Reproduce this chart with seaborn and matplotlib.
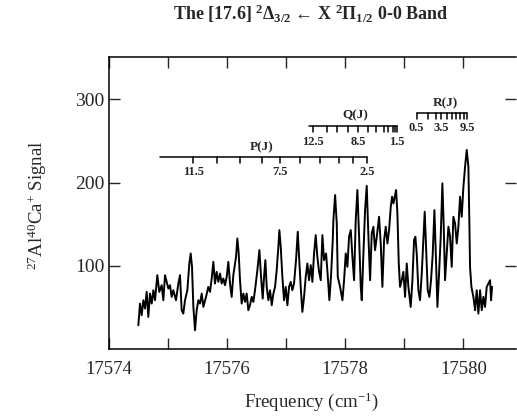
import numpy as np
import pandas as pd
import matplotlib
matplotlib.use("Agg")
import matplotlib.pyplot as plt
import seaborn as sns

# ---- spectrum data ----
freq = [
    17574.501, 17574.529, 17574.557, 17574.586, 17574.614, 17574.642, 17574.670, 17574.698,
    17574.727, 17574.755, 17574.783, 17574.822, 17574.856, 17574.896, 17574.924, 17574.952,
    17574.980, 17575.009, 17575.037, 17575.065, 17575.093, 17575.138, 17575.178, 17575.206,
    17575.234, 17575.262, 17575.291, 17575.330, 17575.364, 17575.387, 17575.409, 17575.432,
    17575.460, 17575.488, 17575.516, 17575.544, 17575.573, 17575.601, 17575.646, 17575.685,
    17575.714, 17575.742, 17575.770, 17575.798, 17575.826, 17575.855, 17575.883, 17575.911,
    17575.939, 17575.967, 17575.996, 17576.024, 17576.052, 17576.080, 17576.108, 17576.154,
    17576.176, 17576.199, 17576.221, 17576.249, 17576.278, 17576.306, 17576.334, 17576.362,
    17576.390, 17576.419, 17576.447, 17576.475, 17576.515,
    17576.549, 17576.577, 17576.605, 17576.628, 17576.650, 17576.673, 17576.701, 17576.729,
    17576.758, 17576.786, 17576.814, 17576.842, 17576.870, 17576.887, 17576.910, 17576.938,
    17576.966, 17576.994, 17577.023, 17577.051, 17577.079, 17577.107, 17577.135, 17577.169,
    17577.198, 17577.220, 17577.248, 17577.276, 17577.305, 17577.333, 17577.361, 17577.389,
    17577.418, 17577.446, 17577.474, 17577.502, 17577.530, 17577.559, 17577.587, 17577.615,
    17577.643, 17577.677, 17577.705, 17577.733, 17577.762, 17577.790,
    17577.801, 17577.830, 17577.858, 17577.875, 17577.914, 17577.954, 17577.982, 17578.010,
    17578.038, 17578.066, 17578.095, 17578.123, 17578.151, 17578.179, 17578.207, 17578.236,
    17578.264, 17578.281, 17578.309, 17578.337, 17578.365, 17578.394, 17578.422, 17578.450,
    17578.478, 17578.506, 17578.535, 17578.574, 17578.602, 17578.630, 17578.659, 17578.687,
    17578.715, 17578.743, 17578.772, 17578.794, 17578.817, 17578.845, 17578.862, 17578.884,
    17578.907,
    17578.929, 17578.957, 17578.985, 17579.014, 17579.042, 17579.070, 17579.109, 17579.138,
    17579.166, 17579.188, 17579.211, 17579.239, 17579.267, 17579.296, 17579.324, 17579.346,
    17579.369, 17579.397, 17579.425, 17579.453, 17579.482, 17579.510, 17579.532, 17579.561,
    17579.589, 17579.617, 17579.645, 17579.668, 17579.690, 17579.719, 17579.747, 17579.775,
    17579.803, 17579.831, 17579.860, 17579.888, 17579.916, 17579.944, 17579.972, 17580.001,
    17580.029, 17580.057, 17580.085, 17580.102, 17580.113, 17580.136, 17580.170, 17580.198,
    17580.226, 17580.254, 17580.283, 17580.311, 17580.339, 17580.367, 17580.395, 17580.424,
    17580.452, 17580.469, 17580.486,
]
signal = [
    29, 55, 41, 59, 49, 69, 39, 67, 55, 71, 59, 89, 69, 77, 59, 89,
    81, 73, 77, 63, 71, 59, 79, 89, 47, 43, 59, 71, 103, 115, 99, 51,
    23, 47, 59, 55, 67, 51, 63, 75, 69, 85, 105, 79, 93, 81, 91, 79,
    85, 77, 87, 105, 79, 63, 89, 111, 133, 115, 83, 55, 67, 57, 67, 47,
    53, 63, 57, 71, 95,
    119, 87, 61, 87, 107, 75, 59, 71, 53, 67, 75, 95, 123, 143, 123, 87,
    59, 75, 53, 75, 81, 71, 79, 107, 141, 111, 75, 45, 63, 87, 103, 83,
    101, 81, 115, 137, 111, 93, 83, 137, 107, 115, 89, 59, 89, 131,
    155, 185, 151, 87, 75, 59, 83, 115, 99, 135, 143, 111, 83, 155, 191, 135,
    75, 59, 115, 167, 196, 135, 83, 139, 147, 119, 135, 159, 127, 75, 131, 147,
    127, 143, 171, 183, 175, 185, 191, 163, 103,
    75, 83, 93, 63, 103, 75, 51, 83, 131, 135, 115, 71, 59, 91, 131, 165,
    123, 71, 63, 83, 115, 167, 119, 51, 91, 135, 199, 147, 83, 115, 147, 135,
    99, 159, 151, 127, 147, 183, 159, 195, 219, 239, 219, 151, 99, 75, 63, 47,
    71, 43, 71, 47, 63, 51, 75, 79, 83, 59, 75,
]

# ---- rotational line assignments (combs) ----
p_ticks = [17575.43, 17575.83, 17576.22, 17576.59, 17576.90, 17577.24, 17577.58,
           17577.89, 17578.14, 17578.37]
p_labels = ["11.5", "", "", "", "7.5", "", "", "", "", "2.5"]
q_ticks = [17577.46, 17577.69, 17577.86, 17578.05, 17578.22, 17578.39, 17578.53,
           17578.65, 17578.73, 17578.81, 17578.84, 17578.87]
q_labels = ["12.5", "", "", "", "8.5", "", "", "", "", "", "", "1.5"]
r_ticks = [17579.21, 17579.41, 17579.54, 17579.63, 17579.72, 17579.80, 17579.88,
           17579.94, 17580.01, 17580.07]
r_labels = ["0.5", "", "", "3.5", "", "", "", "", "", "9.5"]

x_major = [17574, 17575, 17576, 17577, 17578, 17579, 17580]
x_labels = ["17574", "", "17576", "", "17578", "", "17580"]
y_major = [100, 200, 300]

sns.set_style("ticks")
plt.rcParams["font.family"] = ["Liberation Serif", "DejaVu Serif"]
plt.rcParams["mathtext.fontset"] = "custom"
plt.rcParams["mathtext.rm"] = "Liberation Serif"
plt.rcParams["mathtext.it"] = "Liberation Serif:italic"
plt.rcParams["mathtext.bf"] = "Liberation Serif:bold"

fig = plt.figure(figsize=(5.17, 4.19), dpi=100)
ax = fig.add_axes([0.2103, 0.1659, 0.998 - 0.2103, 0.8633 - 0.1659])

df = pd.DataFrame({"freq": freq, "signal": signal})
sns.lineplot(data=df, x="freq", y="signal", ax=ax, color="black", lw=1.4,
             estimator=None, sort=False)

ax.set_xlim(17574, 17580.89)
ax.set_ylim(0, 350)
ax.set_xticks(x_major)
ax.set_xticklabels(x_labels)
ax.set_yticks(y_major)
ax.set_xlabel("")
ax.set_ylabel("")
ax.tick_params(axis="x", direction="in", length=8, width=1.0, pad=8,
               labelsize=13.5, top=True, bottom=True)
ax.tick_params(axis="y", direction="in", length=8, width=1.0, pad=3,
               labelsize=14, left=True, right=True)
for s in ["left", "bottom", "top"]:
    ax.spines[s].set_linewidth(1.1)
    ax.spines[s].set_color("black")
ax.spines["right"].set_visible(False)


def comb(ticks, labels, y_line, tick_len, x_start, x_end, name, name_x, name_y, lab_y):
    ax.plot([x_start, x_end], [y_line, y_line], color="black", lw=1.1)
    for t, lab in zip(ticks, labels):
        ax.plot([t, t], [y_line, y_line - tick_len], color="black", lw=1.1)
        if lab:
            ax.text(t, lab_y, lab, ha="center", va="center", fontsize=9,
                    fontweight="bold")
    ax.text(name_x, name_y, name, ha="center", va="center", fontsize=9.5,
            fontweight="bold")


comb(p_ticks, p_labels, 231, 8, 17574.87, 17578.37, "P(J)", 17576.59, 242, 213)
comb(q_ticks, q_labels, 268, 7, 17577.38, 17578.87, "Q(J)", 17578.17, 280, 248)
comb(r_ticks, r_labels, 283.6, 8, 17579.21, 17580.07, "R(J)", 17579.69, 294.5, 265.6)

fig.text(0.6015, 0.967,
         r"The [17.6] $^{\mathbf{2}}$Δ$_{\mathbf{3/2}}$ ← X $^{\mathbf{2}}$Π$_{\mathbf{1/2}}$ 0-0 Band",
         ha="center", va="center", fontsize=13, fontweight="bold")
fig.text(0.6015, 0.0406, r"Frequency (cm$^{\mathregular{-1}}$)", ha="center", va="center",
         fontsize=13.5)
fig.text(0.0716, 0.511, r"$^{27}$Al$^{40}$Ca$^{+}$ Signal", ha="center", va="center",
         rotation=90, fontsize=13.5)

fig.savefig("out.png", dpi=100)
